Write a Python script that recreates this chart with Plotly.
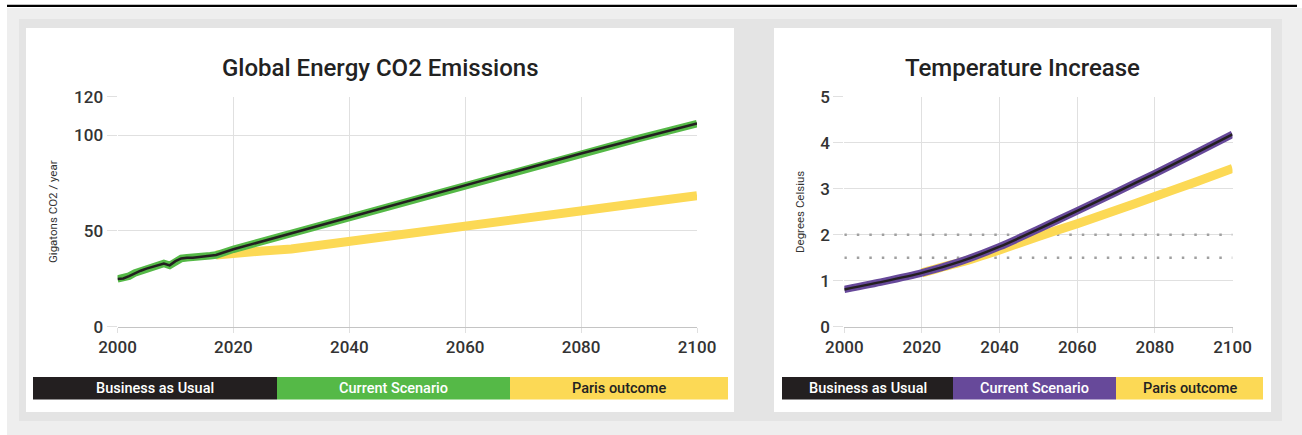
import plotly.graph_objects as go

# ---------------- data ----------------
emis_years = [2000, 2001, 2002, 2003, 2004, 2005, 2006, 2007, 2008, 2009, 2010,
              2011, 2012, 2013, 2014, 2015, 2016, 2017, 2020, 2030, 2040, 2050,
              2060, 2070, 2080, 2090, 2100]
bau_emis = [24.9, 25.2, 26.4, 28.0, 29.2, 30.3, 31.2, 32.2, 33.0, 32.0, 34.2,
            35.6, 36.0, 36.0, 36.3, 36.8, 37.0, 37.4, 40.4, 48.8, 57.2, 65.6,
            74.0, 82.2, 90.4, 98.2, 106.0]
current_emis = [24.9, 25.2, 26.4, 28.0, 29.2, 30.3, 31.2, 32.2, 33.0, 32.0, 34.2,
                35.6, 36.0, 36.0, 36.3, 36.8, 37.0, 37.4, 40.4, 48.8, 57.2, 65.6,
                74.0, 82.2, 90.4, 98.2, 106.0]
paris_emis_years = [2017, 2020, 2025, 2030, 2040, 2050, 2060, 2070, 2080, 2090, 2100]
paris_emis = [37.4, 38.5, 39.5, 40.5, 44.3, 48.2, 52.2, 56.3, 60.4, 64.4, 68.4]

temp_years = [2000, 2010, 2020, 2030, 2040, 2050, 2060, 2070, 2080, 2090, 2100]
bau_temp = [0.81, 0.98, 1.17, 1.42, 1.74, 2.12, 2.52, 2.92, 3.33, 3.75, 4.18]
current_temp = [0.81, 0.98, 1.17, 1.42, 1.74, 2.12, 2.52, 2.92, 3.33, 3.75, 4.18]
paris_temp_years = [2020, 2025, 2030, 2040, 2050, 2060, 2070, 2080, 2090, 2100]
paris_temp = [1.17, 1.29, 1.40, 1.67, 1.96, 2.24, 2.53, 2.83, 3.13, 3.44]
temp_limits = [1.5, 2.0]
limit_span = [2000, 2100]

x_ticks = [2000, 2020, 2040, 2060, 2080, 2100]
emis_ticks = [0, 50, 100, 120]
temp_ticks = [0, 1, 2, 3, 4, 5]

legend_labels = ["Business as Usual", "Current Scenario", "Paris outcome"]

# ---------------- styles ----------------
W, H = 1302, 435
BLACK = "#231f20"
GREEN = "#55b947"
PURPLE = "#67499a"
YELLOW = "#fcd955"
GRID = "#e0e0e0"
FONT = "Roboto"


def px(x):
    return x / W


def py(y):
    return 1 - y / H


fig = go.Figure()

# Emissions chart
fig.add_trace(go.Scatter(x=paris_emis_years, y=paris_emis, mode="lines",
                         line=dict(color=YELLOW, width=9), xaxis="x", yaxis="y",
                         hoverinfo="skip"))
fig.add_trace(go.Scatter(x=emis_years, y=current_emis, mode="lines",
                         line=dict(color=GREEN, width=7.5), xaxis="x", yaxis="y",
                         hoverinfo="skip"))
fig.add_trace(go.Scatter(x=emis_years, y=bau_emis, mode="lines",
                         line=dict(color=BLACK, width=2.5), xaxis="x", yaxis="y",
                         hoverinfo="skip"))

# Temperature chart
for lim in temp_limits:
    fig.add_trace(go.Scatter(x=limit_span, y=[lim, lim], mode="lines",
                             line=dict(color="#a0a0a0", width=2.5, dash="2.5px,10px"),
                             xaxis="x2", yaxis="y2", hoverinfo="skip"))
fig.add_trace(go.Scatter(x=paris_temp_years, y=paris_temp, mode="lines",
                         line=dict(color=YELLOW, width=9, shape="spline", smoothing=0.6),
                         xaxis="x2", yaxis="y2", hoverinfo="skip"))
fig.add_trace(go.Scatter(x=temp_years, y=current_temp, mode="lines",
                         line=dict(color=PURPLE, width=7.5, shape="spline", smoothing=0.6),
                         xaxis="x2", yaxis="y2", hoverinfo="skip"))
fig.add_trace(go.Scatter(x=temp_years, y=bau_temp, mode="lines",
                         line=dict(color=BLACK, width=2.5, shape="spline", smoothing=0.6),
                         xaxis="x2", yaxis="y2", hoverinfo="skip"))

axis_common = dict(
    showgrid=True, gridcolor=GRID, gridwidth=1, zeroline=False,
    ticks="outside", tickcolor=GRID, tickwidth=1,
    tickfont=dict(family=FONT, size=17, color="#333333", weight=500),
    fixedrange=True, automargin=False,
)

shapes = []
# page background / containers
shapes.append(dict(type="rect", xref="paper", yref="paper", x0=px(7), x1=px(1302),
                   y0=py(435), y1=py(8), fillcolor="#eeeeee", line_width=0, layer="below"))
shapes.append(dict(type="rect", xref="paper", yref="paper", x0=px(19), x1=px(1282),
                   y0=py(421), y1=py(19), fillcolor="#e4e4e4", line_width=0, layer="below"))
shapes.append(dict(type="rect", xref="paper", yref="paper", x0=px(26), x1=px(734),
                   y0=py(412), y1=py(28), fillcolor="white", line_width=0, layer="below"))
shapes.append(dict(type="rect", xref="paper", yref="paper", x0=px(774), x1=px(1271),
                   y0=py(412), y1=py(28), fillcolor="white", line_width=0, layer="below"))
shapes.append(dict(type="rect", xref="paper", yref="paper", x0=px(7), x1=px(1297),
                   y0=py(7), y1=py(4.7), fillcolor="black", line_width=0, layer="below"))

annotations = []
# legend bars
left_legend = [(33, 277, BLACK, "white"), (277, 510, GREEN, "white"), (510, 728, YELLOW, "#222222")]
right_legend = [(782, 953, BLACK, "white"), (953, 1116, PURPLE, "white"), (1116, 1263, YELLOW, "#222222")]
for segs in (left_legend, right_legend):
    for (x0, x1, col, tcol), lab in zip(segs, legend_labels):
        shapes.append(dict(type="rect", xref="paper", yref="paper", x0=px(x0), x1=px(x1),
                           y0=py(399.5), y1=py(377), fillcolor=col, line_width=0, layer="below"))
        annotations.append(dict(x=px((x0 + x1) / 2), y=py(388.3), xref="paper", yref="paper",
                                text=lab, showarrow=False, xanchor="center", yanchor="middle",
                                font=dict(family=FONT, size=14.5, color=tcol, weight=500)))

# titles
annotations.append(dict(x=px(380.5), y=py(68), xref="paper", yref="paper",
                        text="Global Energy CO2 Emissions", showarrow=False,
                        xanchor="center", yanchor="middle",
                        font=dict(family=FONT, size=24, color="#222222", weight=500)))
annotations.append(dict(x=px(1022), y=py(68), xref="paper", yref="paper",
                        text="Temperature Increase", showarrow=False,
                        xanchor="center", yanchor="middle",
                        font=dict(family=FONT, size=24, color="#222222", weight=500)))
# axis titles
annotations.append(dict(x=px(53), y=py(212), xref="paper", yref="paper",
                        text="Gigatons CO2 / year", showarrow=False, textangle=-90,
                        xanchor="center", yanchor="middle",
                        font=dict(family=FONT, size=11.5, color="#333333")))
annotations.append(dict(x=px(800), y=py(212), xref="paper", yref="paper",
                        text="Degrees Celsius", showarrow=False, textangle=-90,
                        xanchor="center", yanchor="middle",
                        font=dict(family=FONT, size=11.5, color="#333333")))

fig.update_layout(
    width=W, height=H, autosize=False,
    margin=dict(l=0, r=0, t=0, b=0, pad=0, autoexpand=False),
    paper_bgcolor="white", plot_bgcolor="rgba(0,0,0,0)",
    showlegend=False,
    xaxis=dict(domain=[px(117.5), px(697)], range=[2000, 2100], tickvals=x_ticks,
               ticklen=5, showline=True, linecolor="#c4c4c4", linewidth=1,
               anchor="y", **axis_common),
    yaxis=dict(domain=[py(326.7), py(96.7)], range=[0, 120], tickvals=emis_ticks,
               ticklen=10, anchor="x", **axis_common),
    xaxis2=dict(domain=[px(844.3), px(1232.5)], range=[2000, 2100], tickvals=x_ticks,
                ticklen=5, showline=True, linecolor="#c4c4c4", linewidth=1,
                anchor="y2", **axis_common),
    yaxis2=dict(domain=[py(326.7), py(96.7)], range=[0, 5], tickvals=temp_ticks,
                ticklen=10, anchor="x2", **axis_common),
    shapes=shapes,
    annotations=annotations,
)

fig.write_html(
    "out.html",
    config={"displayModeBar": False, "staticPlot": True},
    post_script="document.body.style.margin='0';document.body.style.overflow='hidden';",
)
